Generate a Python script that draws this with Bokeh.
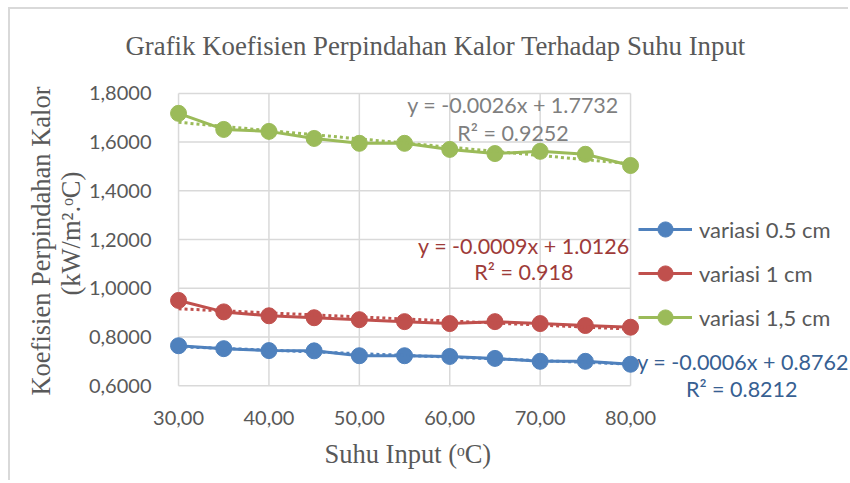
import math
import numpy as np
from bokeh.plotting import figure
from bokeh.models import (Range1d, FixedTicker, CustomJSTickFormatter, Label,
                          Legend, LegendItem, Title)
from bokeh.embed import file_html
from bokeh.resources import INLINE

# ---------------- data ----------------
suhu = [30, 35, 40, 45, 50, 55, 60, 65, 70, 75, 80]
variasi_05 = [0.764, 0.752, 0.744, 0.743, 0.723, 0.723, 0.720, 0.712, 0.700, 0.700, 0.688]
variasi_1 = [0.950, 0.903, 0.887, 0.879, 0.871, 0.863, 0.855, 0.863, 0.855, 0.847, 0.840]
variasi_15 = [1.718, 1.652, 1.644, 1.615, 1.595, 1.595, 1.570, 1.553, 1.562, 1.550, 1.504]
series_names = ["variasi 0.5 cm", "variasi 1 cm", "variasi 1,5 cm"]
x_ticks = [30, 40, 50, 60, 70, 80]
y_ticks = [0.6, 0.8, 1.0, 1.2, 1.4, 1.6, 1.8]
trend_eq = ["y = -0.0006x + 0.8762", "y = -0.0009x + 1.0126", "y = -0.0026x + 1.7732"]
trend_r2 = ["R² = 0.8212", "R² = 0.918", "R² = 0.9252"]

TITLE = "Grafik Koefisien Perpindahan Kalor Terhadap Suhu Input"
Y_TITLE_1 = "Koefisien Perpindahan Kalor"
Y_TITLE_2 = "(kW/m².ᵒC)"
X_TITLE = "Suhu Input (ᵒC)"

# ---------------- styles ----------------
colors = ["#4F81BD", "#C0504D", "#9BBB59"]
eq_colors = ["#376092", "#9E3B39", "#7F7F7F"]
eq_pos = [((92.45, 0.696), (92.3, 0.586)),
          ((68.2, 1.175), (68.2, 1.065)),
          ((67.0, 1.753), (67.0, 1.638))]
GRID = "#D9D9D9"
TXT = "#595959"
SANS = "Lato"
SERIF = "Liberation Serif"

p = figure(width=840, height=473, title=None,
           x_range=Range1d(29.0, 104.33), y_range=Range1d(0.531, 1.857),
           output_backend="svg", toolbar_location=None,
           min_border_left=159, min_border_right=0,
           min_border_top=69, min_border_bottom=80)
p.styles = {"margin-left": "8px", "margin-top": "7px",
            "border-left": "2px solid #D9D9D9", "border-top": "2px solid #D9D9D9"}
p.outline_line_color = None
p.xgrid.visible = False
p.ygrid.visible = False

for ax in (p.xaxis, p.yaxis):
    ax.axis_line_color = None
    ax.major_tick_line_color = None
    ax.minor_tick_line_color = None
    ax.major_label_text_font = SANS
    ax.major_label_text_font_size = "20px"
    ax.major_label_text_color = TXT
p.xaxis.ticker = FixedTicker(ticks=x_ticks)
p.yaxis.ticker = FixedTicker(ticks=y_ticks)
p.xaxis.formatter = CustomJSTickFormatter(code="return tick.toFixed(2).replace('.', ',');")
p.yaxis.formatter = CustomJSTickFormatter(code="return tick.toFixed(4).replace('.', ',');")
p.xaxis.major_label_standoff = 2
p.yaxis.major_label_standoff = 12

# grid lines limited to the data area
nx, ny = len(x_ticks), len(y_ticks)
p.segment(x0=x_ticks, x1=x_ticks, y0=[y_ticks[0]] * nx, y1=[y_ticks[-1]] * nx,
          line_color=GRID, line_width=1.5)
p.segment(x0=[x_ticks[0]] * ny, x1=[x_ticks[-1]] * ny, y0=y_ticks, y1=y_ticks,
          line_color=GRID, line_width=1.5)

items = []
for vals, name, c in zip([variasi_05, variasi_1, variasi_15], series_names, colors):
    lr = p.line(suhu, vals, line_color=c, line_width=3)
    sr = p.scatter(suhu, vals, size=16, fill_color=c, line_color=c)
    items.append(LegendItem(label=name, renderers=[lr, sr]))

for vals, c in zip([variasi_05, variasi_1, variasi_15], colors):
    slope, icpt = np.polyfit(suhu, vals, 1)
    xs = [suhu[0], suhu[-1]]
    p.line(xs, [slope * x + icpt for x in xs], line_color=c, line_width=3,
           line_dash="3 3")

for eq, r2, col, (pe, pr) in zip(trend_eq, trend_r2, eq_colors, eq_pos):
    p.add_layout(Label(x=pe[0], y=pe[1], text=eq, text_align="center",
                       text_baseline="middle", text_font=SANS,
                       text_font_size="21.5px", text_color=col))
    p.add_layout(Label(x=pr[0], y=pr[1], text=r2, text_align="center",
                       text_baseline="middle", text_font=SANS,
                       text_font_size="21.5px", text_color=col))

legend = Legend(items=items, location=(469, 66), glyph_width=54, glyph_height=38,
                label_height=38, label_standoff=7, spacing=6, padding=0, margin=0,
                border_line_color=None, background_fill_alpha=0,
                label_text_font=SANS, label_text_font_size="22px",
                label_text_color=TXT)
p.add_layout(legend)

# titles in the side panels
p.add_layout(Title(text=TITLE, align="left", offset=-44, standoff=38,
                   text_font=SERIF, text_font_size="26.8px", text_color=TXT,
                   text_font_style="normal"), "above")
p.add_layout(Title(text=Y_TITLE_2, align="left", offset=107, standoff=0,
                   text_font=SERIF, text_font_size="26.5px", text_color=TXT,
                   text_font_style="normal"), "left")
yt1 = Title(text=Y_TITLE_1, align="center", standoff=0,
            text_font=SERIF, text_font_size="26.5px", text_color=TXT,
            text_font_style="normal")
try:
    yt1.standoff = -4
except Exception:
    yt1.standoff = 0
p.add_layout(yt1, "left")
p.add_layout(Title(text=X_TITLE, align="left", offset=155, standoff=18,
                   text_font=SERIF, text_font_size="26.5px", text_color=TXT,
                   text_font_style="normal"), "below")

open("out.html", "w").write(file_html(p, INLINE))
